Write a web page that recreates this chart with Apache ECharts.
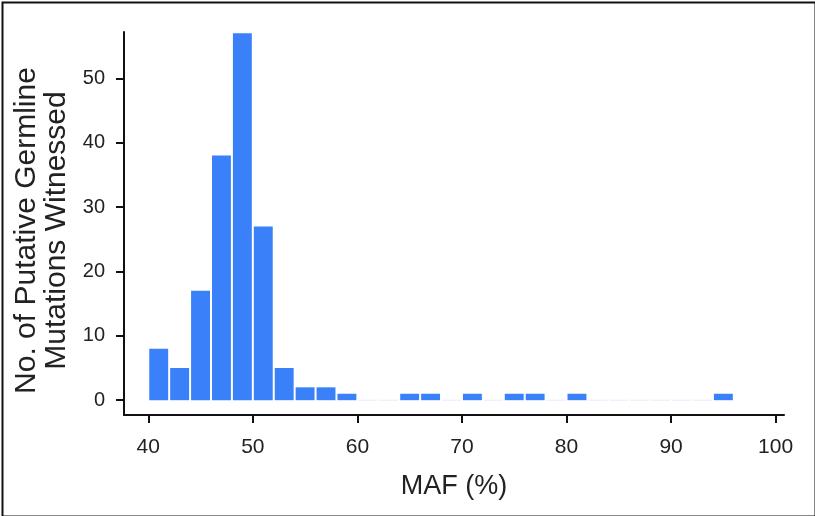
<!DOCTYPE html>
<html>
<head>
<meta charset="utf-8">
<script src="https://cdn.jsdelivr.net/npm/echarts@6/dist/echarts.min.js"></script>
<style>html,body{margin:0;padding:0;background:#fff}#c{width:815px;height:516px}</style>
</head>
<body>
<div id="c"></div>
<script>
// Histogram bins of MAF (%)
var binLeft  = [40, 42, 44, 46, 48, 50, 52, 54, 56, 58, 60, 62, 64, 66, 68, 70, 72, 74, 76, 78, 80, 82, 84, 86, 88, 90, 92, 94];
var binRight = [42, 44, 46, 48, 50, 52, 54, 56, 58, 60, 62, 64, 66, 68, 70, 72, 74, 76, 78, 80, 82, 84, 86, 88, 90, 92, 94, 96];
var counts   = [8, 5, 17, 38, 57, 27, 5, 2, 2, 1, 0, 0, 1, 1, 0, 1, 0, 1, 1, 0, 1, 0, 0, 0, 0, 0, 0, 1];
var xTicks = [40, 50, 60, 70, 80, 90, 100];
var yTicks = [0, 10, 20, 30, 40, 50];

var data = binLeft.map(function (l, i) { return [l, binRight[i], counts[i]]; });
var FONT = 'Liberation Sans, Arial, Helvetica, sans-serif';

var chart = echarts.init(document.getElementById('c'));
chart.setOption({
  animation: false,
  backgroundColor: '#fff',
  grid: { left: 124, right: 31, top: 32, bottom: 101, containLabel: false },
  xAxis: {
    type: 'value', min: 37.68, max: 100.8,
    name: 'MAF (%)', nameLocation: 'middle', nameGap: 58,
    nameTextStyle: { fontSize: 27, color: '#222', fontFamily: FONT },
    axisLine: { show: true, onZero: false, lineStyle: { color: '#111', width: 2 } },
    axisTick: { show: true, length: 8, lineStyle: { color: '#111', width: 2 }, customValues: xTicks },
    axisLabel: { fontSize: 21, color: '#222', fontFamily: FONT, margin: 22, customValues: xTicks },
    splitLine: { show: false }
  },
  yAxis: {
    type: 'value', min: -2.3, max: 57.2,
    name: 'No. of Putative Germline\nMutations Witnessed', nameLocation: 'middle', nameGap: 49, nameRotate: 90,
    nameTextStyle: { fontSize: 30, color: '#222', fontFamily: FONT, lineHeight: 30, padding: [0, 14, 0, 0] },
    axisLine: { show: true, onZero: false, lineStyle: { color: '#111', width: 2 } },
    axisTick: { show: true, length: 8, lineStyle: { color: '#111', width: 2 }, customValues: yTicks },
    axisLabel: { fontSize: 20, color: '#222', fontFamily: FONT, margin: 19, customValues: yTicks },
    splitLine: { show: false }
  },
  series: [{
    type: 'custom',
    data: data,
    encode: { x: [0, 1], y: 2 },
    renderItem: function (params, api) {
      var p0 = api.coord([api.value(0), 0]);
      var p1 = api.coord([api.value(1), api.value(2)]);
      var h = p0[1] - p1[1];
      if (api.value(2) === 0) {
        return { type: 'rect', shape: { x: p0[0] + 1, y: p0[1] - 0.5, width: p1[0] - p0[0] - 2, height: 1 },
                 style: { fill: '#e3ecfc' } };
      }
      return {
        type: 'rect',
        shape: { x: p0[0] + 1, y: p1[1], width: p1[0] - p0[0] - 2, height: h },
        style: { fill: '#3a80f8' }
      };
    }
  }],
  graphic: [{
    type: 'rect', left: 0, top: 0, z: 100,
    shape: { x: 1, y: 1, width: 813, height: 514 },
    style: { fill: 'none', stroke: '#111', lineWidth: 2 }
  }]
});
</script>
</body>
</html>
